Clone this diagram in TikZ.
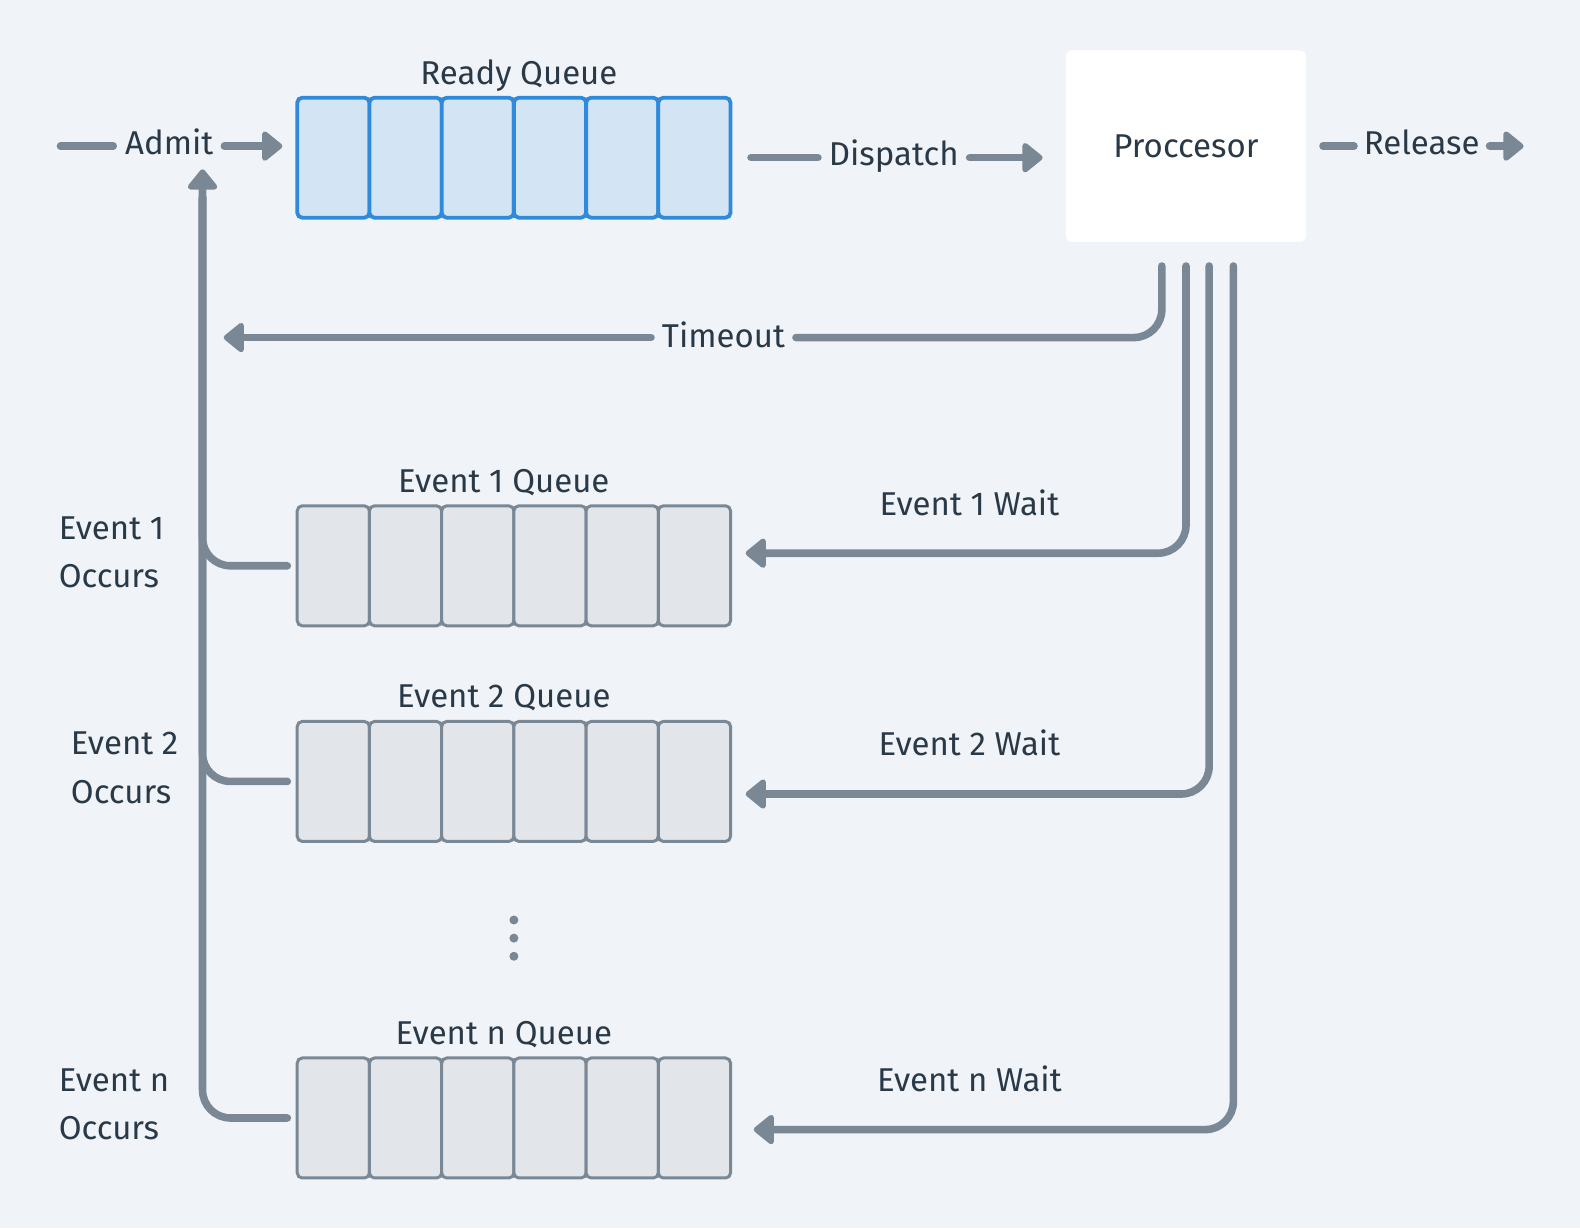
\documentclass[tikz,border=0pt]{standalone}
\usepackage{fontspec}
\setmainfont{Fira Sans}
\usetikzlibrary{arrows.meta}
\definecolor{bg}{HTML}{F0F4F8}
\definecolor{edge}{HTML}{7A8896}
\definecolor{ink}{HTML}{2A3947}
\definecolor{rqfill}{HTML}{D3E5F5}
\definecolor{rqedge}{HTML}{2F8ADB}
\definecolor{qfill}{HTML}{E2E6EA}
\begin{document}
\begin{tikzpicture}[x=0.50385pt, y=-0.50385pt,
        line/.style={draw=edge, line width=3.8pt, line cap=round},
        arr/.style={line, -{Triangle[length=11pt, width=17pt, round]}},
        corner/.style={rounded corners=14pt},
        lbl/.style={text=ink, font=\fontsize{16.5pt}{24.2pt}\selectfont, inner sep=0pt,
            text height=11.5pt, text depth=0pt},
        occ/.style={text=ink, font=\fontsize{16.5pt}{24.2pt}\selectfont, inner sep=0pt,
            align=left, anchor=west},
        rcell/.style={draw=rqedge, fill=rqfill, line width=1.9pt, rounded corners=2.5pt,
            minimum width=36.1pt, minimum height=60pt, inner sep=0pt},
        ecell/.style={rcell, draw=edge, fill=qfill, line width=1.5pt},
        proc/.style={lbl, fill=white, rounded corners=3pt, minimum width=120pt,
            minimum height=95.7pt}]
    % background, fixes the margins
    \fill[bg] (0,0) rectangle (1568,1218.7);

    % queues
    \foreach \i in {0,...,5}
        \node[rcell] (rq\i) at (330.8+71.67*\i,156.5) {};
    \foreach \q/\y in {ea/561.5, eb/775.5, en/1109.5}
        \foreach \i in {0,...,5}
            \node[ecell] (\q\i) at (330.8+71.67*\i,\y) {};
    \foreach \y in {913,931,949}
        \fill[edge] (510,\y) circle (2.25pt);

    \node[lbl] (rqname) at (515,72) {Ready Queue};
    \node[lbl] (eaname) at (500,477) {Event 1 Queue};
    \node[lbl] (ebname) at (500,691) {Event 2 Queue};
    \node[lbl] (enname) at (500,1025) {Event n Queue};
    \node[proc] (proc) at (1177,145) {Proccesor};

    \node[lbl] (admit) at (168,142) {Admit};
    \node[lbl] (dispatch) at (887,153) {Dispatch};
    \node[lbl] (release) at (1411,142) {Release};
    \node[lbl] (timeout) at (718,333) {Timeout};
    \node[lbl] (eawait) at (962,500) {Event 1 Wait};
    \node[lbl] (ebwait) at (962,738) {Event 2 Wait};
    \node[lbl] (enwait) at (962,1072) {Event n Wait};
    \node[occ] (eaocc) at (58,548) {Event 1\\Occurs};
    \node[occ] (ebocc) at (70,762) {Event 2\\Occurs};
    \node[occ] (enocc) at (58,1096) {Event n\\Occurs};

    \coordinate (admitin) at (60,145);
    \coordinate (admup) at (201,168);
    \coordinate (relout) at (1512,145);
    \coordinate (p1) at (1153,264);
    \coordinate (p2) at (1177,264);
    \coordinate (p3) at (1200,264);
    \coordinate (p4) at (1224,264);
    \coordinate (tmo) at (222,335);
    \coordinate (eain) at (740,549);
    \coordinate (ebin) at (740,788);
    \coordinate (enin) at (748,1121);

    % admit, dispatch, release
    \draw[line, shorten >=5.8pt] (admitin) -- (admitin -| admit.west);
    \draw[arr, shorten <=5.3pt, shorten >=6.5pt] (admitin -| admit.east) -- (admitin -| rq0.west);
    \draw[line, shorten <=9.3pt, shorten >=5.3pt] (rq5.east) -- (rq5.east -| dispatch.west);
    \draw[arr, shorten <=5.3pt, shorten >=11.5pt] (rq5.east -| dispatch.east) -- (rq5.east -| proc.west);
    \draw[line, shorten <=8.3pt, shorten >=4.8pt] (proc.east) -- (proc.east -| release.west);
    \draw[arr, shorten <=4.8pt] (proc.east -| release.east) -- (relout);

    % back from the processor
    \draw[line, corner, shorten >=5.3pt] (p1) |- (tmo -| timeout.east);
    \draw[arr, shorten <=5.3pt] (tmo -| timeout.west) -- (tmo);
    \draw[arr, corner] (p2) |- (eain);
    \draw[arr, corner] (p3) |- (ebin);
    \draw[arr, corner] (p4) |- (enin);

    % events occur
    \draw[line, corner, shorten <=4.2pt, shorten >=14pt] (ea0.west) -| (admup);
    \draw[line, corner, shorten <=4.2pt, shorten >=14pt] (eb0.west) -| (admup);
    \draw[arr, corner, shorten <=4.2pt] (en0.west) -| (admup);
\end{tikzpicture}
\end{document}
